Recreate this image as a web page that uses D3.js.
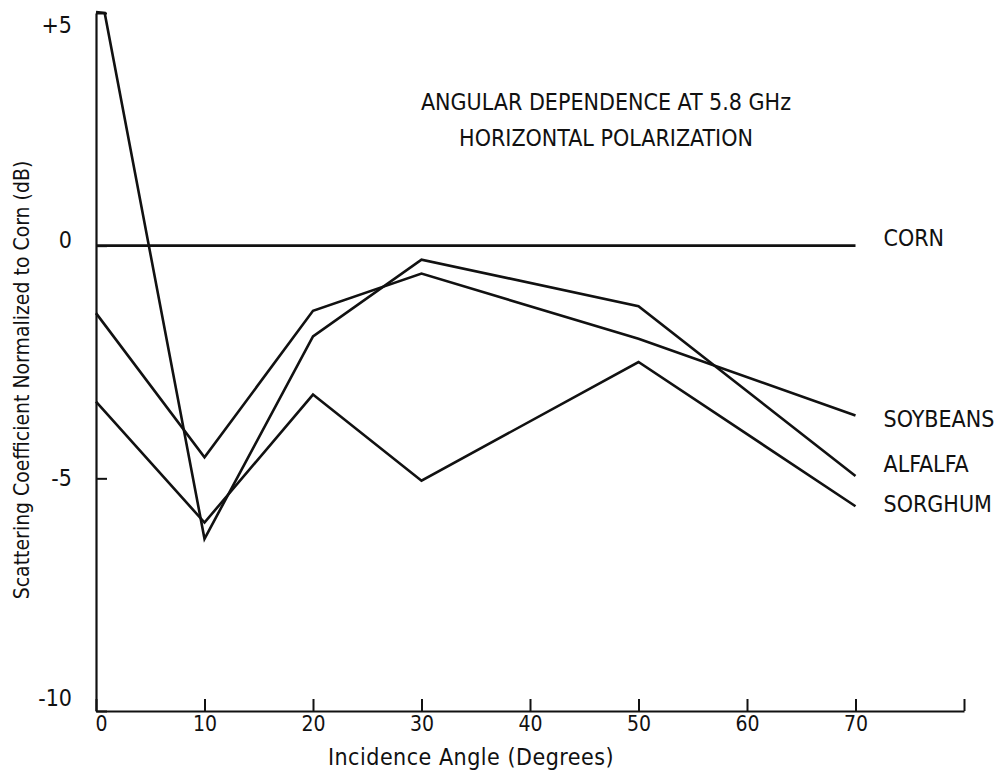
<!DOCTYPE html>
<html>
<head>
<meta charset="utf-8">
<script src="https://cdn.jsdelivr.net/npm/d3@7/dist/d3.min.js"></script>
<style>
  html, body { margin: 0; padding: 0; background: #fff; }
  svg { display: block; }
  text { font-family: "Liberation Sans Narrow", "DejaVu Sans Condensed", "Roboto Condensed", sans-serif; fill: #111; }
</style>
</head>
<body>
<svg id="chart" width="1003" height="778"></svg>
<script>
// Incidence angles (degrees) at which each crop was measured
const angles = [0, 10, 20, 30, 50, 70];
// Alfalfa runs off the top of the scale at nadir, so it carries an extra clipped point
const alfalfaAngles = [0, 0.8, 10, 20, 30, 50, 70];

// Scattering coefficient normalized to corn (dB)
const corn     = [0, 0, 0, 0, 0, 0];
const soybeans = [-1.45, -4.55, -1.4, -0.6, -2.0, -3.65];
const alfalfa  = [5.02, 5.0, -6.3, -1.95, -0.3, -1.3, -4.95];
const sorghum  = [-3.35, -5.95, -3.2, -5.05, -2.5, -5.6];

const seriesNames = ["CORN", "SOYBEANS", "ALFALFA", "SORGHUM"];

// Axis ticks
const xTicks = [0, 10, 20, 30, 40, 50, 60, 70, 80];
const yTicks = [5, 0, -5, -10];

const titleLines = ["ANGULAR DEPENDENCE AT 5.8  GHz", "HORIZONTAL POLARIZATION"];
const xTitle = "Incidence Angle (Degrees)";
const yTitle = "Scattering Coefficient Normalized to Corn (dB)";

const svg = d3.select("#chart");

const x = d3.scaleLinear().domain([0, 80]).range([96, 964]);
const y = d3.scaleLinear().domain([-10, 5]).range([711, 13]);

const series = [
  { name: seriesNames[0], xs: angles, ys: corn, labelY: 238 },
  { name: seriesNames[1], xs: angles, ys: soybeans, labelY: 419 },
  { name: seriesNames[2], xs: alfalfaAngles, ys: alfalfa, labelY: 464 },
  { name: seriesNames[3], xs: angles, ys: sorghum, labelY: 504 }
];

// X axis: ticks point up into the plot, last tick closes the frame at 80°
const xAxis = d3.axisBottom(x)
  .tickValues(xTicks)
  .tickSize(-12)
  .tickSizeOuter(0)
  .tickPadding(5)
  .tickFormat(d => d === 80 ? "" : String(d));

const gx = svg.append("g")
  .attr("transform", `translate(0,${y(-10)})`)
  .call(xAxis);
gx.select(".domain").attr("stroke", "#111").attr("stroke-width", 2.2);
gx.selectAll(".tick line").attr("stroke", "#111").attr("stroke-width", 2);
gx.selectAll(".tick text").attr("font-size", 21).attr("fill", "#111");
gx.selectAll(".tick").filter(d => d === 0).select("text").attr("dx", 5);

// Y axis with inward ticks
const yAxis = d3.axisLeft(y)
  .tickValues(yTicks)
  .tickSize(-11)
  .tickSizeOuter(0)
  .tickPadding(24)
  .tickFormat(d => d > 0 ? "+" + d : String(d));

const gy = svg.append("g")
  .attr("transform", `translate(${x(0)},0)`)
  .call(yAxis);
gy.select(".domain").attr("stroke", "#111").attr("stroke-width", 2.2);
gy.selectAll(".tick line").attr("stroke", "#111").attr("stroke-width", 2);
gy.selectAll(".tick text").attr("font-size", 23).attr("fill", "#111");
gy.selectAll(".tick").filter(d => d === 5).select("text").attr("dy", "0.85em");
gy.selectAll(".tick").filter(d => d === 0).select("text").attr("dy", "0.1em");
gy.selectAll(".tick").filter(d => d === -10).select("text").attr("dy", "-0.25em");

// Curves
const line = d3.line()
  .x(d => x(d[0]))
  .y(d => y(d[1]));

svg.append("g")
  .selectAll("path")
  .data(series)
  .join("path")
  .attr("d", s => line(s.xs.map((a, i) => [a, s.ys[i]])))
  .attr("fill", "none")
  .attr("stroke", "#111")
  .attr("stroke-width", 2.6)
  .attr("stroke-linejoin", "miter");

// Direct labels at the right end of each curve
svg.append("g")
  .selectAll("text")
  .data(series)
  .join("text")
  .attr("x", x(70) + 28)
  .attr("y", s => s.labelY)
  .attr("dy", "0.35em")
  .attr("font-size", 23)
  .text(s => s.name);

// Title block
svg.append("g")
  .selectAll("text")
  .data(titleLines)
  .join("text")
  .attr("x", 606)
  .attr("y", (d, i) => 102 + i * 36)
  .attr("dy", "0.35em")
  .attr("text-anchor", "middle")
  .attr("font-size", 23)
  .text(d => d);

// Axis titles
svg.append("text")
  .attr("x", 471)
  .attr("y", 757)
  .attr("dy", "0.35em")
  .attr("text-anchor", "middle")
  .attr("font-size", 23)
  .attr("letter-spacing", 0.5)
  .text(xTitle);

svg.append("text")
  .attr("transform", "translate(22,380) rotate(-90)")
  .attr("dy", "0.35em")
  .attr("text-anchor", "middle")
  .attr("font-size", 21)
  .text(yTitle);
</script>
</body>
</html>
